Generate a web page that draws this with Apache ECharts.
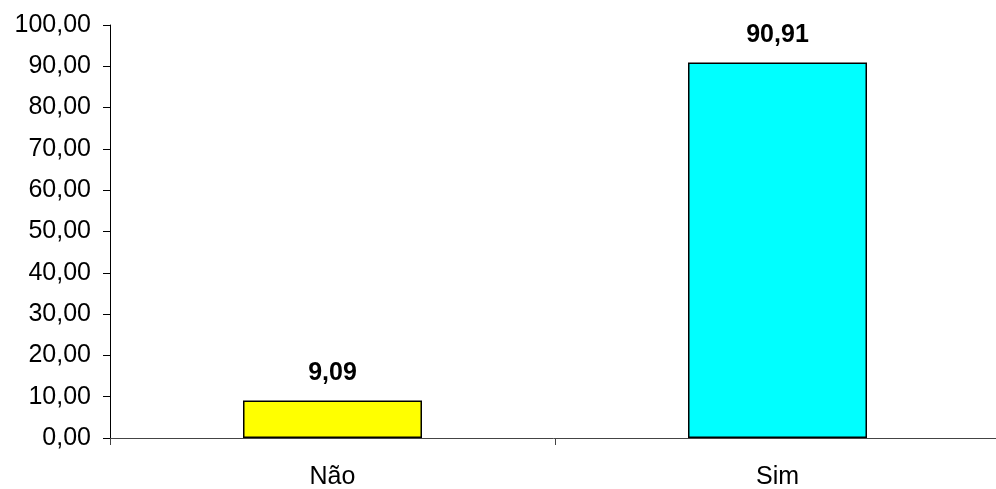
<!DOCTYPE html>
<html><head><meta charset="utf-8">
<script src="https://cdn.jsdelivr.net/npm/echarts@6/dist/echarts.min.js"></script>
<style>html,body{margin:0;padding:0;background:#fff}#c{width:996px;height:489px}</style>
</head><body><div id="c"></div>
<script>
const categories = ['Não', 'Sim'];
const values = [9.09, 90.91];
const barColors = ['#FFFF00', '#00FFFF'];
const fmt = v => v.toFixed(2).replace('.', ',');
const chart = echarts.init(document.getElementById('c'), null, {renderer: 'canvas'});
chart.setOption({
  animation: false,
  grid: {left: 110, width: 890, top: 25, height: 413, containLabel: false, outerBoundsMode: 'none'},
  xAxis: {
    type: 'category', data: categories,
    axisLine: {lineStyle: {color: '#444', width: 1}},
    axisTick: {show: true, length: 7, lineStyle: {color: '#444'}},
    axisLabel: {color: '#000', fontFamily: 'Liberation Sans', fontSize: 25, margin: 27}
  },
  yAxis: {
    type: 'value', min: 0, max: 100, interval: 10,
    axisLine: {show: true, lineStyle: {color: '#000'}},
    axisTick: {show: true, inside: false, length: 7, lineStyle: {color: '#000'}},
    splitLine: {show: false},
    axisLabel: {color: '#000', fontFamily: 'Liberation Sans', fontSize: 25, margin: 19, formatter: v => fmt(v)}
  },
  series: [{
    type: 'bar', barWidth: 179,
    data: values.map((v, i) => ({value: v, itemStyle: {color: barColors[i]}})),
    itemStyle: {borderColor: '#000', borderWidth: 1.5},
    label: {show: true, position: 'top', distance: 15, color: '#000', fontWeight: 'bold', fontFamily: 'Liberation Sans', fontSize: 25, formatter: p => fmt(p.value)}
  }]
});
</script></body></html>
